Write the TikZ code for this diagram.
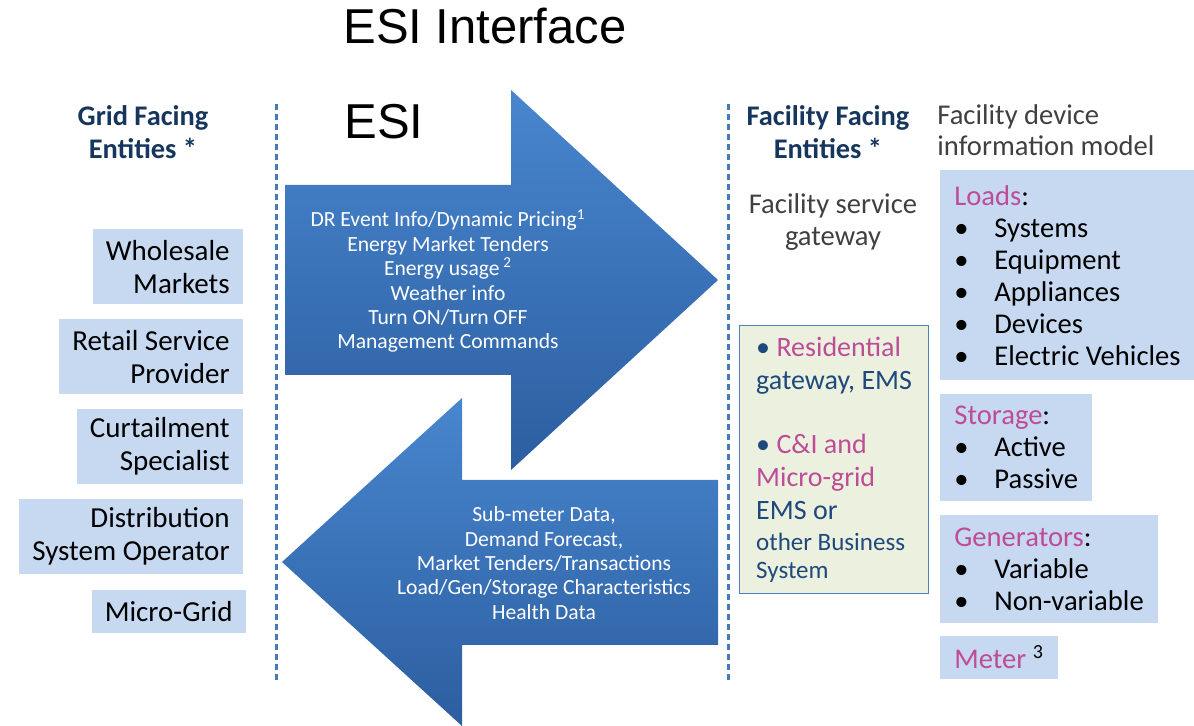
\documentclass[tikz,border=0pt]{standalone}
\usepackage{fontspec}
\setmainfont{Carlito}
\newfontfamily\titlefont{Liberation Sans}
\usepackage{xcolor}
\usetikzlibrary{positioning}
\definecolor{boxblue}{RGB}{198,217,241}
\definecolor{headnavy}{RGB}{23,54,93}
\definecolor{gwnavy}{RGB}{31,73,125}
\definecolor{entpink}{RGB}{190,76,152}
\definecolor{gwgreen}{RGB}{235,241,222}
\definecolor{linkblue}{RGB}{79,129,189}
\definecolor{sepblue}{RGB}{70,122,186}
\definecolor{softgray}{RGB}{64,64,64}
\definecolor{arrtop}{RGB}{72,134,206}
\definecolor{arrbot}{RGB}{44,94,160}
\newcommand{\itm}[1]{\makebox[20pt][l]{\textbullet}#1}

\begin{document}
\begin{tikzpicture}[x=0.5pt, y=-0.5pt, every node/.style={inner sep=0pt},
    gridbox/.style={fill=boxblue, align=right, inner xsep=6.5pt, minimum height=37.5pt, font=\fontsize{14.5}{16.5}\selectfont},
    devbox/.style={fill=boxblue, align=left, inner xsep=7pt, font=\fontsize{14.3}{16}\selectfont},
    heading/.style={align=center, text=headnavy, font=\fontsize{14.2}{16.5}\selectfont\bfseries},
    flowtext/.style={align=center, text=white, font=\fontsize{10.8}{12.2}\selectfont},
    sepline/.style={draw=sepblue, line width=1.5pt, dash pattern=on 3pt off 2pt}]
    \useasboundingbox (0,0) rectangle (1194,726);

    \node (title) at (485,26) {\titlefont\fontsize{24.5}{29}\selectfont ESI Interface};
    \node (esi) at (384,122) {\titlefont\fontsize{24.5}{29}\selectfont ESI};

    \coordinate (gtop) at (276,104);
    \coordinate (gbot) at (276,682);
    \coordinate (ftop) at (728,104);
    \coordinate (fbot) at (728,682);
    \draw [sepline] (gtop) -- (gbot);
    \draw [sepline] (ftop) -- (fbot);

    \shade [top color=arrtop, bottom color=arrbot] (285,185) -- (511,185) -- (511,90) -- (718,280) -- (511,470) -- (511,375) -- (285,375) -- cycle;
    \shade [top color=arrtop, bottom color=arrbot] (718,480) -- (462,480) -- (462,398) -- (282,562) -- (462,726) -- (462,645) -- (718,645) -- cycle;
    \node [flowtext] (down) at (448,281) {DR Event Info/Dynamic Pricing\textsuperscript{1}\\Energy Market Tenders\\Energy usage\,\textsuperscript{2}\\Weather info\\Turn ON/Turn OFF\\Management Commands};
    \node [flowtext] (up) at (544,563) {Sub-meter Data,\\Demand Forecast,\\Market Tenders/Transactions\\Load/Gen/Storage Characteristics\\Health Data};

    \node [heading] (gridhead) at (143,132) {Grid Facing\\Entities *};
    \node [gridbox, anchor=north east] (whole) at (243,229) {Wholesale\\Markets};
    \node [gridbox, below=7pt of whole.south east, anchor=north east] (retail) {Retail Service\\Provider};
    \node [gridbox, below=7pt of retail.south east, anchor=north east] (curtail) {Curtailment\\Specialist};
    \node [gridbox, below=7pt of curtail.south east, anchor=north east] (dso) {Distribution\\System Operator};
    \node [gridbox, minimum height=21.5pt, below=7.5pt of dso.south east, anchor=north east, xshift=1.5pt] (mgrid) {Micro-Grid};

    \node [heading] (fachead) at (828,132) {Facility Facing\\Entities *};
    \node [align=center, text=softgray, font=\fontsize{14.3}{16}\selectfont] (svcgw) at (833,222) {Facility service\\gateway};
    \node [anchor=north west, fill=gwgreen, draw=linkblue, line width=0.6pt, minimum width=94.5pt, minimum height=134pt, align=left, inner xsep=7pt, text=gwnavy, font=\fontsize{14}{16.5}\selectfont] (bizgw) at (739,325)
        {\textbullet\ {\color{entpink}Residential}\\gateway, EMS\\[15.5pt]\textbullet\ {\color{entpink}C\&I and}\\{\color{entpink}Micro-grid}\\EMS or\\[-1pt]{\fontsize{12.5}{14}\selectfont other Business}\\[-2.5pt]{\fontsize{12.5}{14}\selectfont System}};

    \node [anchor=west, align=left, text=softgray, font=\fontsize{14.3}{15.5}\selectfont] (devhead) at (937,130) {Facility device\\information model};
    \node [devbox, anchor=north west, minimum height=105pt] (loads) at (940,170) {{\color{entpink}Loads}:\\\itm{Systems}\\\itm{Equipment}\\\itm{Appliances}\\\itm{Devices}\\\itm{Electric Vehicles}};
    \node [devbox, minimum height=53.5pt, below=6.5pt of loads.south west, anchor=north west] (storage) {{\color{entpink}Storage}:\\\itm{Active}\\\itm{Passive}};
    \node [devbox, minimum height=54pt, below=6.5pt of storage.south west, anchor=north west] (gens) {{\color{entpink}Generators}:\\\itm{Variable}\\\itm{Non-variable}};
    \node [devbox, minimum height=21.5pt, below=6pt of gens.south west, anchor=north west] (meter) {{\color{entpink}Meter} \textsuperscript{3}};
\end{tikzpicture}
\end{document}
